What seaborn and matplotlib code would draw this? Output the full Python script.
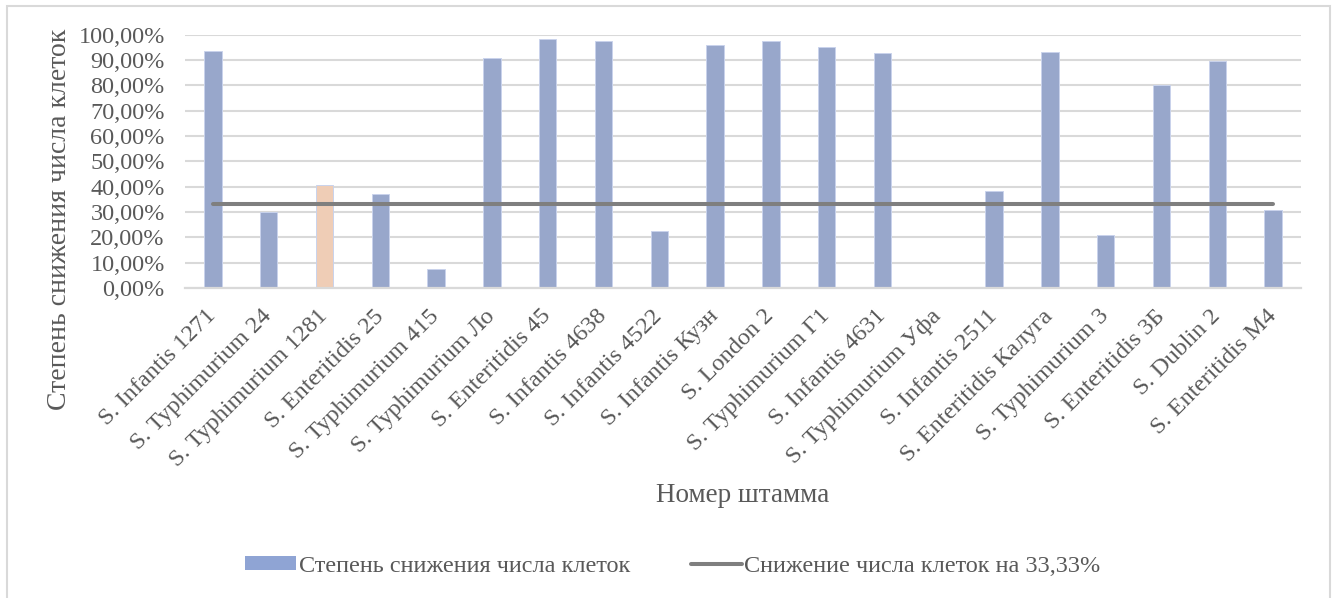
import numpy as np
import pandas as pd
import matplotlib
matplotlib.use("Agg")
import matplotlib.pyplot as plt
from matplotlib.patches import Patch, Rectangle
from matplotlib.lines import Line2D
from matplotlib.ticker import FuncFormatter, MultipleLocator
import seaborn as sns

# Strains and the measured reduction of cell count, %
strains = [
    "S. Infantis 1271", "S. Typhimurium 24", "S. Typhimurium 1281",
    "S. Enteritidis 25", "S. Typhimurium 415", "S. Typhimurium Ло",
    "S. Enteritidis 45", "S. Infantis 4638", "S. Infantis 4522",
    "S. Infantis Кузн", "S. London 2", "S. Typhimurium Г1",
    "S. Infantis 4631", "S. Typhimurium Уфа", "S. Infantis 2511",
    "S. Enteritidis Калуга", "S. Typhimurium 3", "S. Enteritidis 3Б",
    "S. Dublin 2", "S. Enteritidis M4",
]
reduction = [93.4, 29.9, 40.7, 37.1, 7.6, 90.8, 98.2, 97.4, 22.6, 96.1,
             97.4, 95.3, 92.6, 0.0, 38.4, 93.3, 20.8, 80.1, 89.5, 30.8]
threshold = 33.33
highlighted = "S. Typhimurium 1281"

bar_label = "Степень снижения числа клеток"
line_label = "Снижение числа клеток на 33,33%"
x_title = "Номер штамма"
y_title = "Степень снижения числа клеток"

BLUE = "#8FA4D4"
ORANGE = "#F8CBAD"
GREY_LINE = "#7F7F7F"
GRID = "#D9D9D9"
TEXT = "#595959"
SERIF = ["Liberation Serif", "DejaVu Serif"]

sns.set_theme(style="white")
plt.rcParams["font.family"] = SERIF
plt.rcParams["text.color"] = TEXT
plt.rcParams["axes.labelcolor"] = TEXT

df = pd.DataFrame({"strain": strains, "value": reduction})
palette = {s: (ORANGE if s == highlighted else BLUE) for s in strains}

W, H = 1336, 598
fig = plt.figure(figsize=(W / 100, H / 100), dpi=100)
ax = fig.add_axes([185 / W, 1 - 288 / H, (1301 - 185) / W, (288 - 34.7) / H])

sns.barplot(data=df, x="strain", y="value", hue="strain", palette=palette,
            width=0.31, legend=False, ax=ax, edgecolor="#C9D3EC", linewidth=0.7,
            zorder=2)

n = len(strains)
sns.lineplot(x=np.arange(n), y=np.full(n, threshold), color=GREY_LINE,
             linewidth=2.9, ax=ax, zorder=3, solid_capstyle="round")

ax.set_xlim(-0.5, n - 0.5)
ax.set_ylim(0, 100)
ax.yaxis.set_major_locator(MultipleLocator(10))
ax.yaxis.set_major_formatter(FuncFormatter(lambda v, _: f"{v:.2f}".replace(".", ",") + "%"))
ax.grid(axis="y", color=GRID, linewidth=1.5, zorder=0)
ax.set_axisbelow(True)

for side in ["left", "right", "top"]:
    ax.spines[side].set_visible(False)
ax.spines["bottom"].set_color(GRID)
ax.spines["bottom"].set_linewidth(1.6)

ax.tick_params(axis="y", length=0, pad=14.5, labelsize=17.5, labelcolor=TEXT)
ax.tick_params(axis="x", length=0, pad=18, labelsize=17.5, labelcolor=TEXT)
for lbl in ax.get_xticklabels():
    lbl.set_rotation(45)
    lbl.set_ha("right")
    lbl.set_va("center")
    lbl.set_rotation_mode("anchor")

ax.set_xlabel(x_title, fontsize=19.5)
ax.xaxis.label.set_va("center")
ax.xaxis.set_label_coords(0.5, (288 - 496) / (288 - 34.7))
ax.set_ylabel(y_title, fontsize=20)
ax.yaxis.label.set_va("center")
ax.yaxis.set_label_coords((60 - 185) / (1301 - 185), (288 - 219) / (288 - 34.7))

handles = [
    Patch(facecolor=BLUE, edgecolor="none"),
    Line2D([0], [0], color=GREY_LINE, linewidth=2.9, solid_capstyle="round"),
]
fig.legend(handles, [bar_label, line_label], loc="center",
           bbox_to_anchor=(673 / W, 1 - 566 / H), ncol=2, frameon=False,
           prop={"family": SERIF, "size": 17.5}, handlelength=2.1, handleheight=0.55,
           handletextpad=0.1, columnspacing=2.5, labelcolor=TEXT)

# light chart frame
fig.patches.append(Rectangle((7 / W, -0.05), (1330 - 7) / W, 1.05 - 6 / H,
                             transform=fig.transFigure, fill=False,
                             edgecolor=GRID, linewidth=1.5))

fig.savefig("out.png", dpi=100)
